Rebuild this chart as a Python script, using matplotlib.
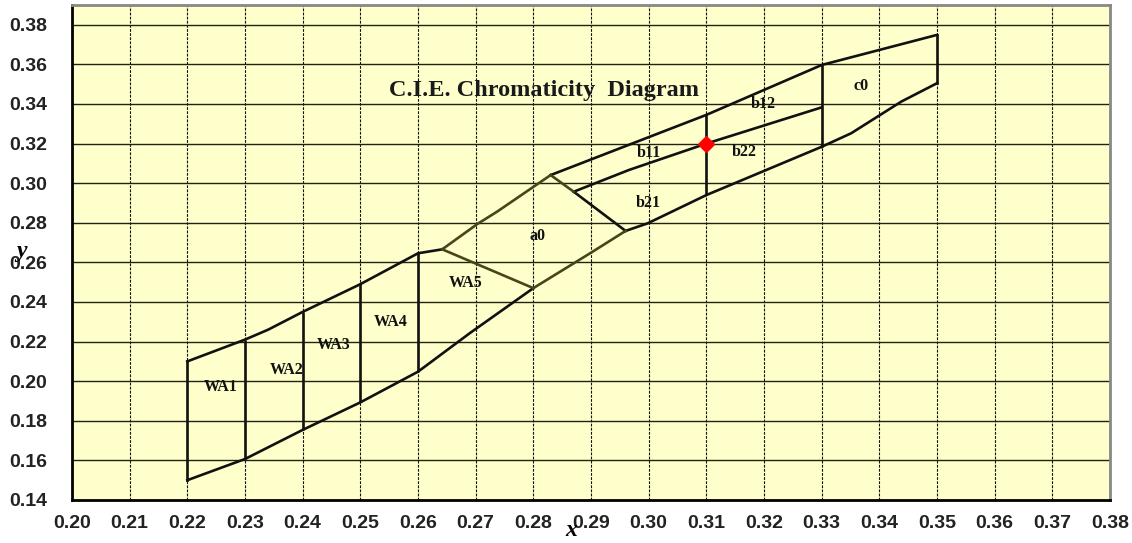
import matplotlib.pyplot as plt
import numpy as np

# CIE bin outlines (x, y chromaticity)
wa_top_x = [0.22, 0.23, 0.234, 0.24, 0.25, 0.26, 0.2642]
wa_top_y = [0.21, 0.221, 0.226, 0.235, 0.249, 0.2646, 0.2666]
a0_top_x = [0.2642, 0.2703, 0.2737, 0.283]
a0_top_y = [0.2666, 0.2794, 0.2856, 0.3041]
b_top_x = [0.283, 0.298, 0.31, 0.33, 0.35]
b_top_y = [0.3041, 0.321, 0.3345, 0.3597, 0.3749]
c0_right_x = [0.35, 0.35]
c0_right_y = [0.3749, 0.3505]
c0_low_x = [0.35, 0.3438, 0.3351, 0.33]
c0_low_y = [0.3505, 0.3412, 0.3252, 0.3184]
b_low_x = [0.33, 0.31, 0.2998, 0.296]
b_low_y = [0.3184, 0.294, 0.2797, 0.2759]
a0_low_x = [0.296, 0.290, 0.28]
a0_low_y = [0.2759, 0.2649, 0.247]
wa_low_x = [0.28, 0.269, 0.26, 0.25, 0.24, 0.23, 0.22]
wa_low_y = [0.247, 0.2243, 0.2048, 0.1893, 0.1754, 0.1607, 0.15]
wa_left_x = [0.22, 0.22]
wa_left_y = [0.15, 0.21]

# vertical dividers between WA bins: x, y bottom, y top
wa_div_x = [0.23, 0.24, 0.25, 0.26]
wa_div_lo = [0.1607, 0.1754, 0.1893, 0.2048]
wa_div_hi = [0.221, 0.2351, 0.2494, 0.2646]

wa5_a0_x = [0.2642, 0.28]
wa5_a0_y = [0.2666, 0.247]
a0_b_olive_x = [0.283, 0.287]
a0_b_olive_y = [0.3041, 0.2957]
a0_b_x = [0.287, 0.296]
a0_b_y = [0.2957, 0.2759]
b1_b2_x = [0.287, 0.2966, 0.31, 0.33]
b1_b2_y = [0.2957, 0.3067, 0.32, 0.3383]
b_div_x = [0.31, 0.33]
b_div_lo = [0.294, 0.3184]
b_div_hi = [0.3345, 0.3597]

point_x = [0.31]
point_y = [0.32]

labels = ["WA1", "WA2", "WA3", "WA4", "WA5", "a0", "b11", "b21", "b22", "b12", "c0"]
label_x = [0.2257, 0.2373, 0.2453, 0.2552, 0.2682, 0.2807, 0.300, 0.300, 0.3165, 0.3198, 0.3368]
label_y = [0.1971, 0.2057, 0.2183, 0.2299, 0.2496, 0.2733, 0.3152, 0.290, 0.3158, 0.340, 0.3491]

black = "#111111"
olive = "#46461a"

fig = plt.figure(figsize=(11.32, 5.43), dpi=100)
ax = fig.add_axes([0.0636, 0.0792, 0.9170, 0.9116])
ax.set_facecolor("#ffffcc")
ax.set_xlim(0.20, 0.38)
ax.set_ylim(0.14, 0.39)

# grid: dashed verticals, solid horizontals
for gx in np.arange(0.21, 0.3801, 0.01):
    ax.axvline(gx, color="#111111", lw=0.8, ls=(0, (2.5, 1.2)), zorder=1)
for gy in np.arange(0.16, 0.3801, 0.02):
    ax.axhline(gy, color="#222211", lw=1.0, zorder=1)

lw = 1.9
for xs, ys in [(wa_top_x, wa_top_y), (b_top_x, b_top_y), (c0_right_x, c0_right_y),
               (c0_low_x, c0_low_y), (b_low_x, b_low_y), (wa_low_x, wa_low_y),
               (wa_left_x, wa_left_y), (a0_b_x, a0_b_y), (b1_b2_x, b1_b2_y)]:
    ax.plot(xs, ys, color=black, lw=lw, zorder=3)
for xs, ys in [(a0_top_x, a0_top_y), (a0_low_x, a0_low_y), (wa5_a0_x, wa5_a0_y),
               (a0_b_olive_x, a0_b_olive_y)]:
    ax.plot(xs, ys, color=olive, lw=lw, zorder=3)
ax.vlines(wa_div_x, wa_div_lo, wa_div_hi, color=black, lw=lw, zorder=3)
ax.vlines(b_div_x, b_div_lo, b_div_hi, color=black, lw=lw, zorder=3)

ax.plot(point_x, point_y, marker="D", color="red", markersize=8.5, ls="none", zorder=5)

for t, lx, ly in zip(labels, label_x, label_y):
    ax.text(lx, ly, t, ha="center", va="center", fontsize=11.5, fontweight="bold",
            family="Liberation Serif", color=black, zorder=4)

ax.text(0.2818, 0.3466, "C.I.E. Chromaticity  Diagram", ha="center", va="center",
        fontsize=17.5, fontweight="bold", family="Liberation Serif", color="#1a1a1a", zorder=4)

ax.set_xticks(np.arange(0.20, 0.3801, 0.01))
ax.set_yticks(np.arange(0.14, 0.3801, 0.02))
ax.set_xticklabels([f"{v:.2f}" for v in np.arange(0.20, 0.3801, 0.01)])
ax.set_yticklabels([f"{v:.2f}" for v in np.arange(0.14, 0.3801, 0.02)])
ax.tick_params(length=0, labelsize=14)
ax.tick_params(axis="x", pad=11)
ax.tick_params(axis="y", pad=18)
for lab in ax.get_xticklabels() + ax.get_yticklabels():
    lab.set_family("Liberation Sans")
    lab.set_fontweight("bold")
    lab.set_color("#222222")

fig.text(571 / 1132, 1 - 530 / 543, "x", ha="center", va="center", fontsize=17,
         fontweight="bold", style="italic", family="Liberation Serif")
fig.text(22 / 1132, 1 - 252 / 543, "y", ha="center", va="center", fontsize=17,
         fontweight="bold", style="italic", family="Liberation Serif")

ax.spines["left"].set_color("black")
ax.spines["bottom"].set_color("black")
ax.spines["left"].set_linewidth(2)
ax.spines["bottom"].set_linewidth(2)
ax.spines["top"].set_color("#888888")
ax.spines["right"].set_color("#888888")
ax.spines["top"].set_linewidth(2)
ax.spines["right"].set_linewidth(2)

fig.savefig("out.png", dpi=100, facecolor="white")
